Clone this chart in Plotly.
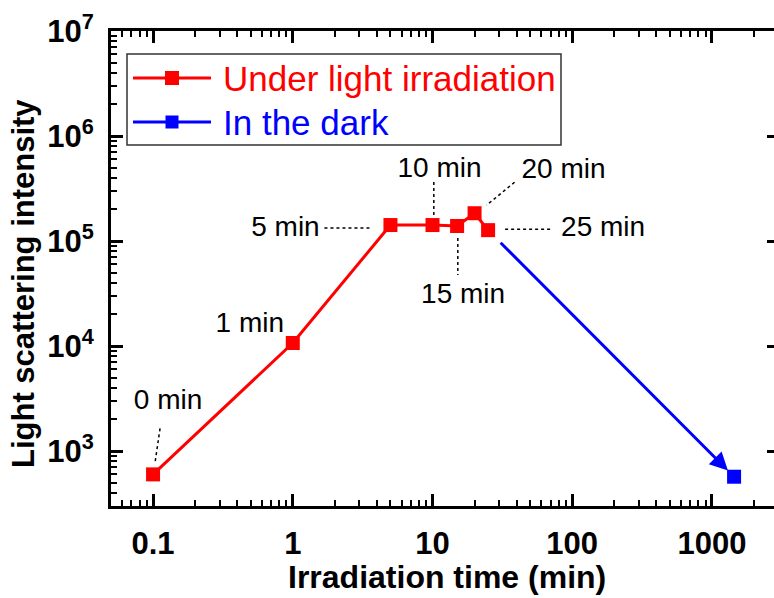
import numpy as np
import plotly.graph_objects as go

# ---------------- data ----------------
light_time = [0.1, 1, 5, 10, 15, 20, 25]
light_intensity = [600, 10700, 142000, 142000, 139000, 184000, 127000]
dark_time = [1440]
dark_intensity = [570]
point_labels = ["0 min", "1 min", "5 min", "10 min", "15 min", "20 min", "25 min"]

x_tick_vals = [0.1, 1, 10, 100, 1000]
x_tick_text = ["0.1", "1", "10", "100", "1000"]
y_tick_vals = [1e3, 1e4, 1e5, 1e6, 1e7]
y_tick_text = ["10<sup>3</sup>", "10<sup>4</sup>", "10<sup>5</sup>", "10<sup>6</sup>", "10<sup>7</sup>"]

series_names = ["Under light irradiation", "In the dark"]
x_title = "Irradiation time (min)"
y_title = "Light scattering intensity"

# ---------------- layout geometry ----------------
W, H = 774, 598
ML, MR, MT, MB = 111, 0, 31, 92
x_range = [np.log10(0.05), np.log10(2780)]
y_range = [np.log10(300), 7]
px_per_dec_x = (W - ML - MR) / (x_range[1] - x_range[0])
px_per_dec_y = (H - MT - MB) / (y_range[1] - y_range[0])

FONT = "Liberation Sans, Arial, sans-serif"
RED = "#FF0000"
BLUE = "#0000FF"


def offset(t, v, dx, dy):
    """shift a data point by pixel offsets (dx right, dy down)"""
    return (10 ** (np.log10(t) + dx / px_per_dec_x),
            10 ** (np.log10(v) - dy / px_per_dec_y))


def px2paper(px, py):
    return ((px - ML) / (W - ML - MR), (H - MB - py) / (H - MT - MB))


# label placement (pixel offsets from each point)
label_offsets = [(15, -72), (-43, -18), (-105, 4), (7, -55), (6, 70), (89, -42), (115, -1)]
leader_offsets = [((7, -46), (2, -12)), None, ((-66, 3), (-18, 3)), ((1.3, -43), (1.3, -10)),
                  ((0.7, 12), (0.7, 49)), ((40, -31), (12, -8)), ((17, -1), (65, -1))]

fig = go.Figure()

# leader lines
for t, v, lead in zip(light_time, light_intensity, leader_offsets):
    if lead is None:
        continue
    p0 = offset(t, v, *lead[0])
    p1 = offset(t, v, *lead[1])
    fig.add_trace(go.Scatter(x=[p0[0], p1[0]], y=[p0[1], p1[1]], mode="lines",
                             line=dict(color="black", width=1.5, dash="3px,3px"),
                             showlegend=False, hoverinfo="skip"))

# main series
fig.add_trace(go.Scatter(x=light_time, y=light_intensity, mode="lines+markers",
                         name=series_names[0], line=dict(color=RED, width=3),
                         marker=dict(symbol="square", size=14, color=RED),
                         showlegend=False))
fig.add_trace(go.Scatter(x=dark_time, y=dark_intensity, mode="lines+markers",
                         name=series_names[1], line=dict(color=BLUE, width=3),
                         marker=dict(symbol="square", size=14, color=BLUE),
                         showlegend=False))

# point labels
lx, ly = [], []
for t, v, off in zip(light_time, light_intensity, label_offsets):
    p = offset(t, v, *off)
    lx.append(p[0]); ly.append(p[1])
fig.add_trace(go.Scatter(x=lx, y=ly, mode="text", text=point_labels,
                         textposition="middle center",
                         textfont=dict(family=FONT, size=28, color="black"),
                         showlegend=False, hoverinfo="skip"))

# dummy trace for the right-hand tick axis
fig.add_trace(go.Scatter(x=[None], y=[None], yaxis="y2", showlegend=False, hoverinfo="skip"))

# arrow from last light point to the dark point (in log space)
lt0, lv0 = np.log10(light_time[-1]), np.log10(light_intensity[-1])
lt1, lv1 = np.log10(dark_time[0]), np.log10(dark_intensity[0])
f0, f1 = 0.045, 0.975
fig.add_annotation(x=lt0 + f1 * (lt1 - lt0), y=lv0 + f1 * (lv1 - lv0),
                   ax=lt0 + f0 * (lt1 - lt0), ay=lv0 + f0 * (lv1 - lv0),
                   xref="x", yref="y", axref="x", ayref="y", text="",
                   showarrow=True, arrowhead=2, arrowsize=1.2, arrowwidth=3,
                   arrowcolor=BLUE, standoff=0)

# ---------------- manual legend ----------------
bx0, by0 = px2paper(127, 54)
bx1, by1 = px2paper(561, 145)
fig.add_shape(type="rect", xref="paper", yref="paper", x0=bx0, y0=by1, x1=bx1, y1=by0,
              line=dict(color="#333333", width=1.5), fillcolor="white", layer="above")
for name, color, row_y, msize in [(series_names[0], RED, 78, 14), (series_names[1], BLUE, 122, 13)]:
    lx0, ry = px2paper(133, row_y)
    lx1, _ = px2paper(211, row_y)
    mx, _ = px2paper(172, row_y)
    tx, _ = px2paper(221, row_y)
    fig.add_shape(type="line", xref="paper", yref="paper", x0=lx0, x1=lx1, y0=ry, y1=ry,
                  line=dict(color=color, width=3), layer="above")
    fig.add_shape(type="rect", xref="paper", yref="paper", xsizemode="pixel", ysizemode="pixel",
                  xanchor=mx, yanchor=ry, x0=-msize / 2, x1=msize / 2, y0=-msize / 2, y1=msize / 2,
                  line=dict(width=0), fillcolor=color, layer="above")
    fig.add_annotation(x=tx, y=ry, xref="paper", yref="paper", text=name, showarrow=False,
                       xanchor="left", yanchor="middle",
                       font=dict(family=FONT, size=35, color=color))

# ---------------- axis titles ----------------
xt_x, xt_y = px2paper(447, 597)
fig.add_annotation(x=xt_x, y=xt_y, xref="paper", yref="paper", text="<b>" + x_title + "</b>",
                   showarrow=False, xanchor="center", yanchor="bottom",
                   font=dict(family=FONT, size=32, color="black"))
yt_x, yt_y = px2paper(23, 284)
fig.add_annotation(x=yt_x, y=yt_y, xref="paper", yref="paper", text="<b>" + y_title + "</b>",
                   showarrow=False, xanchor="center", yanchor="middle", textangle=-90,
                   font=dict(family=FONT, size=31, color="black"))

axis_common = dict(type="log", showgrid=False, zeroline=False, showline=True,
                   linecolor="black", linewidth=3, ticks="inside", tickcolor="black",
                   tickwidth=2.5, ticklen=12,
                   tickfont=dict(family=FONT, size=31, color="black", weight="bold"))

x_minor = [m * 10.0 ** e for e in range(-2, 4) for m in range(2, 10)]
y_minor = [m * 10.0 ** e for e in range(2, 7) for m in range(2, 10)]

fig.update_layout(
    width=W, height=H,
    margin=dict(l=ML, r=MR, t=MT, b=MB, autoexpand=False),
    paper_bgcolor="white", plot_bgcolor="white",
    font=dict(family=FONT, color="black"),
    xaxis=dict(**axis_common, range=x_range, mirror="ticks",
               tickmode="array", tickvals=x_tick_vals, ticktext=x_tick_text,
               ticklabelstandoff=8,
               minor=dict(tickmode="array", tickvals=x_minor, ticks="inside", ticklen=6,
                          tickwidth=2, tickcolor="black")),
    yaxis=dict(**axis_common, range=y_range, mirror=False,
               tickmode="array", tickvals=y_tick_vals, ticktext=y_tick_text,
               ticklabelstandoff=8,
               minor=dict(tickmode="array", tickvals=y_minor, ticks="inside", ticklen=6,
                          tickwidth=2, tickcolor="black")),
    yaxis2=dict(type="log", overlaying="y", side="right", anchor="x", range=y_range,
                showgrid=False, zeroline=False, showline=False, showticklabels=False,
                ticks="inside", ticklen=7, tickwidth=2.5, tickcolor="black",
                tickmode="array", tickvals=y_tick_vals),
    showlegend=False,
)

fig.write_html("out.html", config={"displayModeBar": False},
               post_script="document.body.style.margin='0px';document.body.style.overflow='hidden';")
